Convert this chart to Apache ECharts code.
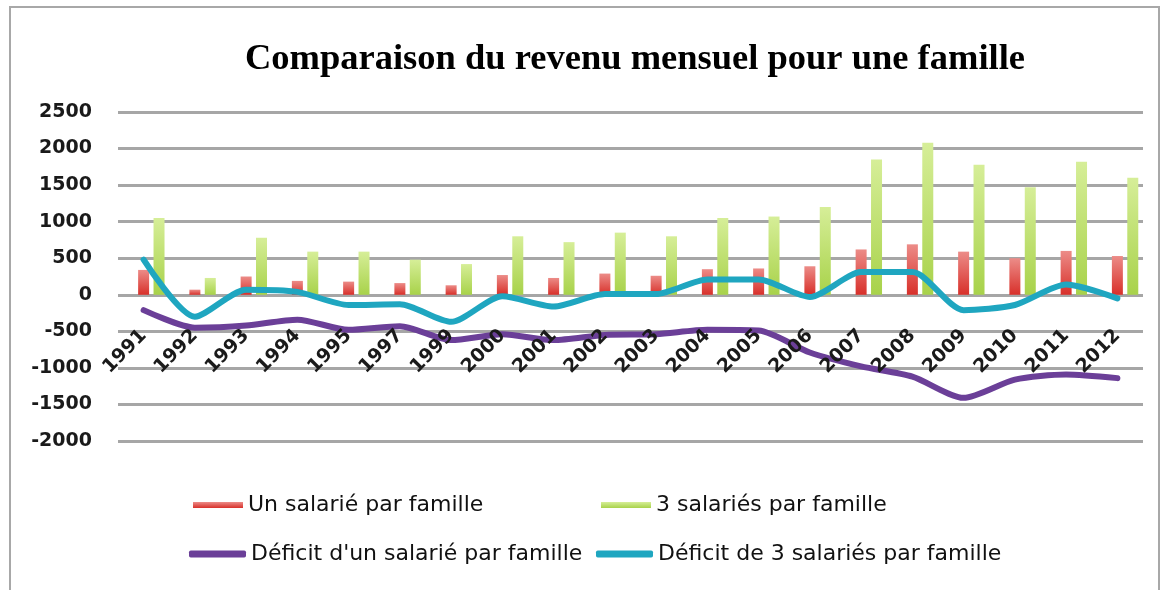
<!DOCTYPE html>
<html>
<head>
<meta charset="utf-8">
<script src="https://cdn.jsdelivr.net/npm/echarts@6/dist/echarts.min.js"></script>
<style>
  html, body { margin: 0; padding: 0; background: #fff; }
  #chart { width: 1164px; height: 590px; }
</style>
</head>
<body>
<div id="chart"></div>
<script>
const years = ['1991', '1992', '1993', '1994', '1995', '1997', '1999', '2000', '2001', '2002',
  '2003', '2004', '2005', '2006', '2007', '2008', '2009', '2010', '2011', '2012'];
const unSalarie = [340, 70, 250, 190, 180, 160, 130, 270, 230, 290, 260, 350, 360, 390, 620, 690, 590, 500, 600, 530];
const troisSalaries = [1050, 230, 780, 590, 590, 480, 420, 800, 720, 850, 800, 1050, 1070, 1200, 1850, 2080, 1780, 1470, 1820, 1600];
const deficitUn = [-210, -450, -420, -340, -480, -430, -620, -540, -620, -550, -540, -480, -490, -790, -980, -1120, -1410, -1160, -1090, -1140];
const deficitTrois = [480, -300, 70, 40, -140, -130, -370, -20, -160, 10, 10, 210, 210, -30, 310, 310, -210, -140, 140, -50];
const yMin = -2000, yMax = 2500, yStep = 500;

const names = ['Un salarié par famille', '3 salariés par famille', "Déficit d'un salarié par famille", 'Déficit de 3 salariés par famille'];

const gridTop = 112, gridBottom = 149, height = 590;
// the category axis sits on the zero line, like the original
const zeroOffset = -(0 - yMin) / (yMax - yMin) * (height - gridTop - gridBottom);

const chart = echarts.init(document.getElementById('chart'));

const legendText = { fontFamily: 'DejaVu Sans', fontSize: 22, color: '#111' };
const legendBase = { orient: 'horizontal', padding: 0, selectedMode: false, textStyle: legendText };

chart.setOption({
  animation: false,
  graphic: [{
    type: 'rect', shape: { x: 10, y: 7, width: 1149, height: 620 },
    style: { fill: 'none', stroke: '#a8a8a8', lineWidth: 2 }, silent: true
  }],
  title: {
    text: 'Comparaison du revenu mensuel pour une famille',
    left: 635, top: 41, textAlign: 'center', padding: 0,
    textStyle: { fontFamily: 'Liberation Serif', fontWeight: 'bold', fontSize: 36.5, color: '#000' }
  },
  legend: [
    { ...legendBase, left: 193, top: 494, itemWidth: 50, itemHeight: 6, data: [{ name: names[0], icon: 'rect' }] },
    { ...legendBase, left: 601, top: 494, itemWidth: 50, itemHeight: 6, data: [{ name: names[1], icon: 'rect' }] },
    { ...legendBase, left: 189, top: 543, itemWidth: 57, itemHeight: 7, data: [{ name: names[2], icon: 'roundRect' }] },
    { ...legendBase, left: 596, top: 543, itemWidth: 57, itemHeight: 7, data: [{ name: names[3], icon: 'roundRect' }] },
  ],
  grid: { left: 118, right: 21, top: gridTop, bottom: gridBottom },
  xAxis: {
    type: 'category', data: years, offset: zeroOffset, z: 5,
    axisLine: { show: false, onZero: false },
    axisTick: { show: false },
    axisLabel: { interval: 0, rotate: 45, margin: 38, fontFamily: 'DejaVu Sans', fontWeight: 'bold', fontSize: 19, color: '#1a1a1a' },
  },
  yAxis: {
    type: 'value', min: yMin, max: yMax, interval: yStep,
    axisLine: { show: false }, axisTick: { show: false },
    splitLine: { lineStyle: { color: '#a6a6a6', width: 3 } },
    axisLabel: { margin: 26, formatter: v => String(v), fontFamily: 'DejaVu Sans', fontWeight: 'bold', fontSize: 19, color: '#1a1a1a' },
  },
  series: [
    // empty slot so the two bars sit right of the category centre, as in the original
    { name: 'spacer', type: 'bar', data: [], barWidth: 11, barGap: '40%' },
    {
      name: names[0], type: 'bar', data: unSalarie, barWidth: 11, barGap: '40%',
      itemStyle: { color: new echarts.graphic.LinearGradient(0, 0, 0, 1, [
        { offset: 0, color: '#ec8c88' }, { offset: 1, color: '#d8302a' }]) }
    },
    {
      name: names[1], type: 'bar', data: troisSalaries, barWidth: 11, barGap: '40%',
      itemStyle: { color: new echarts.graphic.LinearGradient(0, 0, 0, 1, [
        { offset: 0, color: '#d6ee98' }, { offset: 1, color: '#a8d24a' }]) }
    },
    {
      name: names[2], type: 'line', data: deficitUn, smooth: 0.25, symbol: 'none',
      lineStyle: { color: '#6b3f98', width: 6, cap: 'round' }, itemStyle: { color: '#6b3f98' }
    },
    {
      name: names[3], type: 'line', data: deficitTrois, smooth: 0.25, symbol: 'none',
      lineStyle: { color: '#1fa6c0', width: 6, cap: 'round' }, itemStyle: { color: '#1fa6c0' }
    },
  ],
});
</script>
</body>
</html>
